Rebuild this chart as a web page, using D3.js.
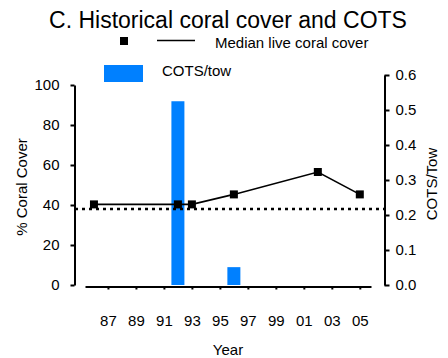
<!DOCTYPE html>
<html><head><meta charset="utf-8">
<script src="https://cdn.jsdelivr.net/npm/d3@7"></script>
<style>body{margin:0;background:#fff}svg{display:block;font-family:"Liberation Sans",Arial,sans-serif}</style>
</head><body>
<svg id="c" width="448" height="358"></svg>
<script>
const coverYears = [1986, 1992, 1993, 1996, 2002, 2005];
const coverValues = [40.3, 40.3, 40.3, 45.3, 56.5, 45.3];
const cotsYears = [1992, 1996];
const cotsValues = [0.525, 0.051];
const medianRef = 38;
const xTicks = [1987, 1989, 1991, 1993, 1995, 1997, 1999, 2001, 2003, 2005];
const leftTicks = [0, 20, 40, 60, 80, 100];
const rightTicks = [0, 0.1, 0.2, 0.3, 0.4, 0.5, 0.6];

const svg = d3.select("#c");
const x = d3.scaleLinear().domain([1985.36, 2005.8]).range([85, 371]);
const yL = d3.scaleLinear().domain([0, 100]).range([285, 85]);
const yR = d3.scaleLinear().domain([0, 0.6]).range([285, 75]);
const blue = "#0080ff";

// bars
svg.append("g").selectAll("rect").data(cotsYears.map((d,i)=>({y:d,v:cotsValues[i]})))
  .join("rect")
  .attr("x", d => x(d.y) - 6.5).attr("width", 13)
  .attr("y", d => yR(d.v)).attr("height", d => yR(0) - yR(d.v))
  .attr("fill", blue);

// dotted reference
svg.append("line").attr("x1", 75).attr("x2", 384)
  .attr("y1", yL(medianRef)).attr("y2", yL(medianRef))
  .attr("stroke", "#000").attr("stroke-width", 2.5).attr("stroke-dasharray", "3 4");

// line
const pts = coverYears.map((d,i)=>({y:d,v:coverValues[i]}));
svg.append("path").datum(pts)
  .attr("d", d3.line().x(d=>x(d.y)).y(d=>yL(d.v)))
  .attr("fill","none").attr("stroke","#000").attr("stroke-width",1.6);
svg.append("g").selectAll("rect").data(pts).join("rect")
  .attr("x", d=>x(d.y)-4).attr("y", d=>yL(d.v)-4).attr("width",8).attr("height",8)
  .attr("fill","#000");

// axes
function style(g){
  g.selectAll("path,line").attr("stroke","#000").attr("stroke-width",2);
  g.selectAll("text").attr("font-size",15).attr("fill","#000").attr("font-family",'"Liberation Sans",Arial,sans-serif');
}
const ax = svg.append("g").attr("transform","translate(0,286.5)")
  .call(d3.axisBottom(x).tickValues(xTicks).tickFormat(d=>String(d).slice(2)).tickSize(3).tickSizeOuter(0).tickPadding(26));
style(ax);
const al = svg.append("g").attr("transform","translate(74.5,0)")
  .call(d3.axisLeft(yL).tickValues(leftTicks).tickSize(4).tickSizeOuter(0).tickPadding(11));
style(al);
const ar = svg.append("g").attr("transform","translate(384.5,0)")
  .call(d3.axisRight(yR).tickValues(rightTicks).tickFormat(d3.format(".1f")).tickSize(5).tickSizeOuter(0).tickPadding(6));
style(ar);

// titles
svg.append("text").attr("x",228).attr("y",28).attr("text-anchor","middle")
  .attr("font-size",23).text("C. Historical coral cover and COTS");
svg.append("text").attr("transform","translate(27,187) rotate(-90)").attr("text-anchor","middle")
  .attr("font-size",15).text("% Coral Cover");
svg.append("text").attr("transform","translate(437,184) rotate(-90)").attr("text-anchor","middle")
  .attr("font-size",15).text("COTS/Tow");
svg.append("text").attr("x",228).attr("y",355).attr("text-anchor","middle")
  .attr("font-size",15).text("Year");

// legend
svg.append("rect").attr("x",120).attr("y",37).attr("width",8).attr("height",8).attr("fill","#000");
svg.append("line").attr("x1",157).attr("x2",195).attr("y1",40.5).attr("y2",40.5).attr("stroke","#000").attr("stroke-width",1.6);
svg.append("text").attr("x",215).attr("y",47.5).attr("font-size",15).text("Median live coral cover");
svg.append("rect").attr("x",104).attr("y",65).attr("width",39).attr("height",17).attr("fill",blue);
svg.append("text").attr("x",162).attr("y",76).attr("font-size",15).text("COTS/tow");
</script>
</body></html>
